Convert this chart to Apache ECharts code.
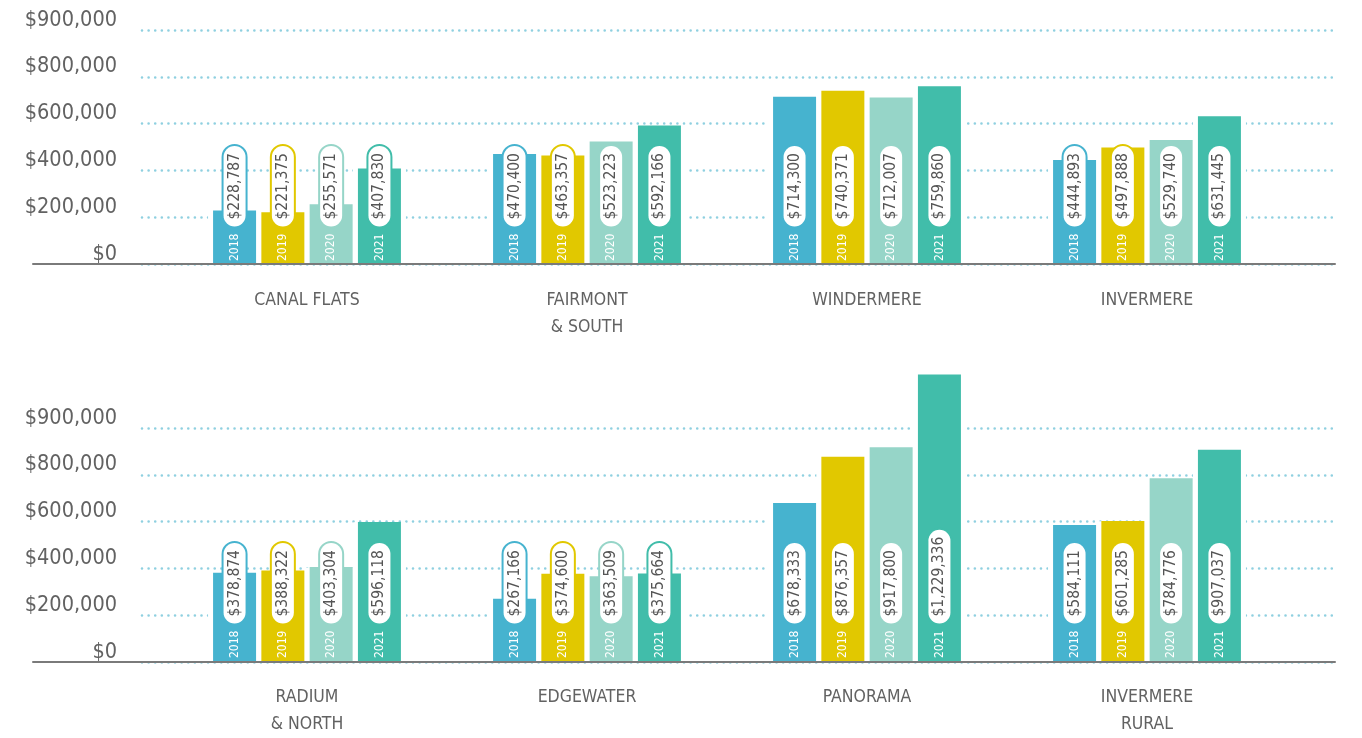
<!DOCTYPE html>
<html>
<head>
<meta charset="utf-8">
<script src="https://cdn.jsdelivr.net/npm/echarts@6/dist/echarts.min.js"></script>
<style>
html,body{margin:0;padding:0;background:#fff;}
#chart{width:1362px;height:738px;}
</style>
</head>
<body>
<div id="chart"></div>
<script>
// ---- data ----
const years = ['2018', '2019', '2020', '2021'];
const topCategories = ['CANAL FLATS', 'FAIRMONT\n& SOUTH', 'WINDERMERE', 'INVERMERE'];
const bottomCategories = ['RADIUM\n& NORTH', 'EDGEWATER', 'PANORAMA', 'INVERMERE\nRURAL'];
const top2018 = [228787, 470400, 714300, 444893];
const top2019 = [221375, 463357, 740371, 497888];
const top2020 = [255571, 523223, 712007, 529740];
const top2021 = [407830, 592166, 759860, 631445];
const bottom2018 = [378874, 267166, 678333, 584111];
const bottom2019 = [388322, 374600, 876357, 601285];
const bottom2020 = [403304, 363509, 917800, 784776];
const bottom2021 = [596118, 375664, 1229336, 907037];
const yTickLabels = ['$0', '$200,000', '$400,000', '$600,000', '$800,000', '$900,000'];

// ---- styling ----
const colors = ['#46b3cf', '#e1c800', '#96d5c8', '#41bdaa'];
const FONT = "'DejaVu Sans Condensed','Liberation Sans Narrow',sans-serif";
const TEXT = '#626262';
const Y_MAX = 1000000, Y_INT = 200000;

const panels = [
  { top: 30, cats: topCategories, series: [top2018, top2019, top2020, top2021] },
  { top: 428, cats: bottomCategories, series: [bottom2018, bottom2019, bottom2020, bottom2021] }
];
const GH = 234;

const grid = [], xAxis = [], yAxis = [], series = [];
function fmt(v) { return '$' + v.toLocaleString('en-US'); }

panels.forEach((p, pi) => {
  // 1. axis line grid
  let g = grid.length;
  grid.push({ left: 33, right: 27, top: p.top, height: GH });
  xAxis.push({ gridIndex: g, type: 'category', data: p.cats, z: 10,
    axisLine: { show: true, lineStyle: { color: '#7a7a7a', width: 2 } },
    axisTick: { show: false }, axisLabel: { show: false }, splitLine: { show: false } });
  yAxis.push({ gridIndex: g, type: 'value', min: 0, max: Y_MAX, show: false, splitLine: { show: false } });

  // 2. gridline / y-label grid
  g = grid.length;
  grid.push({ left: 142, right: 27, top: p.top, height: GH });
  xAxis.push({ gridIndex: g, type: 'category', data: p.cats, show: false });
  yAxis.push({ gridIndex: g, type: 'value', min: 0, max: Y_MAX, interval: Y_INT,
    axisLine: { show: false }, axisTick: { show: false },
    axisLabel: { show: true, margin: 25, color: TEXT, fontFamily: FONT, fontSize: 21.5,
      verticalAlign: 'bottom', lineHeight: 20,
      formatter: (v) => yTickLabels[Math.round(v / Y_INT)] },
    splitLine: { show: true, lineStyle: { color: '#8fd0e0', width: 2.6, type: [0.01, 6.6], cap: 'round' } } });

  // 3. white halo bars grid
  g = grid.length;
  grid.push({ left: 167, width: 1120, top: p.top, height: GH });
  xAxis.push({ gridIndex: g, type: 'category', data: p.cats, show: false });
  yAxis.push({ gridIndex: g, type: 'value', min: 0, max: Y_MAX, show: false, splitLine: { show: false } });
  p.series.forEach((arr, si) => {
    series.push({ type: 'bar', xAxisIndex: g, yAxisIndex: g, data: arr, barWidth: 53, barGap: '-8.87%',
      itemStyle: { color: '#ffffff' }, silent: true, clip: false, z: 2 });
  });

  // 4. coloured bars grid
  g = grid.length;
  grid.push({ left: 167, width: 1120, top: p.top, height: GH });
  xAxis.push({ gridIndex: g, type: 'category', data: p.cats,
    axisLine: { show: false }, axisTick: { show: false }, splitLine: { show: false },
    axisLabel: { show: true, interval: 0, margin: 23, color: TEXT, fontFamily: FONT, fontSize: 17.5, lineHeight: 27 } });
  yAxis.push({ gridIndex: g, type: 'value', min: 0, max: Y_MAX, show: false, splitLine: { show: false } });
  p.series.forEach((arr, si) => {
    series.push({ type: 'bar', name: years[si], xAxisIndex: g, yAxisIndex: g, data: arr,
      barWidth: 43, barGap: '12.3%', clip: false, z: 3,
      itemStyle: { color: colors[si] },
      label: { show: true, position: 'insideBottom', rotate: 90, align: 'left', verticalAlign: 'middle', distance: 3,
        formatter: (prm) => '{y|' + years[si] + '}{v|' + fmt(prm.value) + '}',
        rich: {
          y: { color: '#ffffff', fontFamily: FONT, fontSize: 12, padding: [0, 7, 0, 0] },
          v: { color: '#555555', fontFamily: FONT, fontSize: 15.5, lineHeight: 20,
            backgroundColor: '#ffffff', borderColor: colors[si], borderWidth: 2, borderRadius: 13,
            padding: [3, 7, 3, 7] }
        } } });
  });
});

const chart = echarts.init(document.getElementById('chart'), null, { renderer: 'canvas' });
chart.setOption({ animation: false, backgroundColor: '#ffffff', grid, xAxis, yAxis, series });
</script>
</body>
</html>
